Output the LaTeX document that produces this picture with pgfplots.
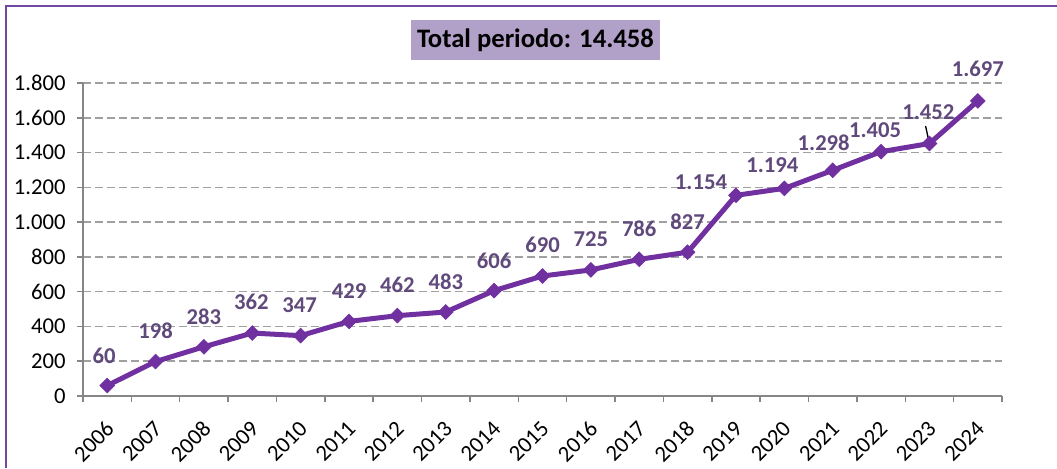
\documentclass[border=0pt]{standalone}
\usepackage{fontspec}
\setmainfont{Carlito}
\usepackage{pgfplots}
\pgfplotsset{compat=1.18}

\definecolor{linepurple}{RGB}{112,48,160}
\definecolor{labelpurple}{RGB}{96,73,123}
\definecolor{framepurple}{RGB}{112,72,160}
\definecolor{titlefill}{RGB}{177,160,199}
\definecolor{axisgray}{RGB}{134,134,134}
\definecolor{gridgray}{RGB}{160,160,160}

% image is 1057x468 px, 1px = 0.75pt
\begin{document}
\begin{tikzpicture}
\useasboundingbox (0,0) rectangle (792.75pt,351pt);
\draw[framepurple, line width=1pt] (4.5pt,0) -- (4.5pt,346.5pt) -- (792.75pt,346.5pt);
\node[fill=titlefill, minimum width=186.75pt, minimum height=30pt, inner sep=0pt,
      font=\fontsize{20}{24}\selectfont\bfseries] at (401.6pt,321pt) {Total periodo: 14.458};

\begin{axis}[
    at={(62.25pt,54pt)}, anchor=south west,
    scale only axis,
    width=689.25pt, height=234.75pt,
    clip=false,
    xmin=-0.5, xmax=18.5,
    ymin=0, ymax=1800,
    axis x line*=bottom, axis y line*=left,
    axis line style={axisgray, line width=1.1pt, -},
    xtick={0,...,18},
    xticklabels={2006,2007,2008,2009,2010,2011,2012,2013,2014,2015,2016,2017,2018,2019,2020,2021,2022,2023,2024},
    minor xtick={-0.5,0.5,...,18.5},
    major x tick style={draw=none},
    minor x tick style={axisgray, line width=1.1pt},
    ytick={0,200,...,1800},
    major y tick style={axisgray, line width=1.1pt},
    tick align=outside,
    major tick length=4.5pt, minor tick length=4.5pt,
    ymajorgrids,
    major grid style={gridgray, line width=1.1pt, dash pattern=on 6pt off 3pt},
    /pgf/number format/assume math mode=true,
    /pgf/number format/1000 sep={.},
    ticklabel style={font=\fontsize{17}{20}\selectfont, text=black},
    yticklabel style={xshift=-5pt},
    xticklabel style={yshift=-13pt, xshift=-2pt, rotate=45, anchor=north east, inner sep=0pt},
    nodes near coords={\pgfmathprintnumber[fixed,precision=0,1000 sep={.},assume math mode=true]{\pgfplotspointmeta}},
    every node near coord/.append style={font=\fontsize{17}{20}\selectfont\bfseries, text=labelpurple, anchor=center},
]
\addplot[linepurple, line width=3.75pt,
    mark=square*, mark size=3.9pt,
    mark options={rotate=45, solid, line width=0.5pt, fill=linepurple},
    point meta=explicit,
    visualization depends on={value \thisrow{dx} \as \dx},
    visualization depends on={value \thisrow{dy} \as \dy},
    nodes near coords style={xshift=\dx*0.75pt, yshift=\dy*0.75pt},
] table[x=x, y=y, meta=y] {
x  y     dx   dy
0  60    -3   30
1  198   0    31
2  283   0    30
3  362   -1   31
4  347   -1   31
5  429   0    30
6  462   0    31
7  483   0    30
8  606   0    30
9  690   0    31
10 725   0    31
11 786   0    31
12 827   0    30
13 1154  -35  13
14 1194  -12  23
15 1298  -9   28
16 1405  -6   22
17 1452  -1   31
18 1697  0    32
};
\draw[black, line width=1pt] (axis cs:16.92,1553) -- (axis cs:16.99,1462);
\end{axis}
\end{tikzpicture}
\end{document}
